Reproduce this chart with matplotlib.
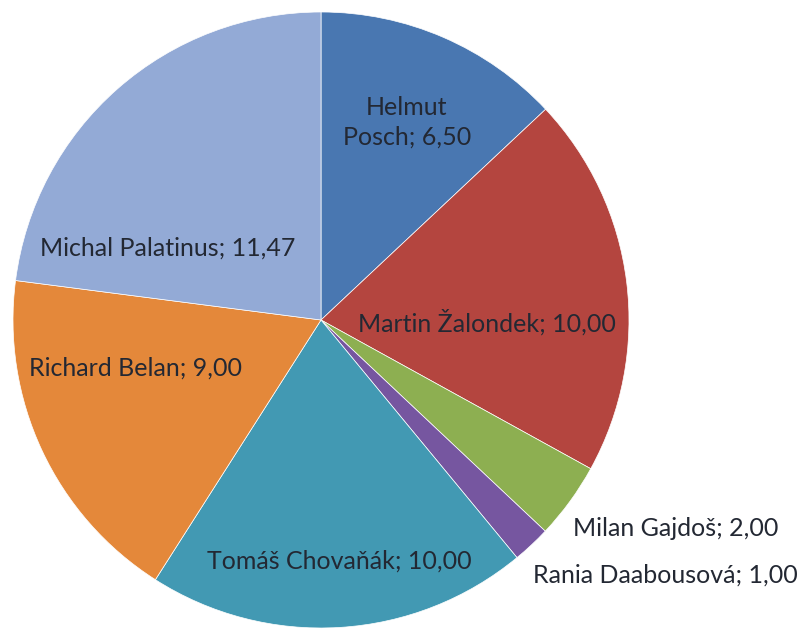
import matplotlib.pyplot as plt

# Points per member
names = ["Helmut Posch", "Martin Žalondek", "Milan Gajdoš", "Rania Daabousová",
         "Tomáš Chovaňák", "Richard Belan", "Michal Palatinus"]
points = [6.50, 10.00, 2.00, 1.00, 10.00, 9.00, 11.47]
colors = ["#4977B1", "#B4453F", "#8DAF51", "#7656A0", "#4299B3", "#E4883A", "#93AAD6"]

W, H = 804, 629
fig = plt.figure(figsize=(W / 100, H / 100), dpi=100)
ax = fig.add_axes([0, 0, 1, 1])

# pie centre and radius in pixel units (y measured from the bottom)
cx, cy, r = 321, H - 320, 308
ax.pie(points, colors=colors, startangle=90, counterclock=False,
       center=(cx, cy), radius=r, frame=True,
       wedgeprops=dict(edgecolor="white", linewidth=0.5))
ax.set_xlim(0, W)
ax.set_ylim(0, H)
ax.axis("off")

# label anchors (pixels from top-left), Excel "best fit" placement
label_pos = [(407, 122), (487, 322), (676, 529), (665, 575),
             (339, 561), (136, 368), (168, 248)]
for name, val, (x, y) in zip(names, points, label_pos):
    txt = f"{name}; {val:.2f}".replace(".", ",")
    if name == "Helmut Posch":
        txt = txt.replace(" ", "\n", 1)
    ax.text(x, H - y, txt, ha="center", va="center", fontsize=18,
            family="Lato", color="#232833", linespacing=1.35)

fig.savefig("out.png", dpi=100)
